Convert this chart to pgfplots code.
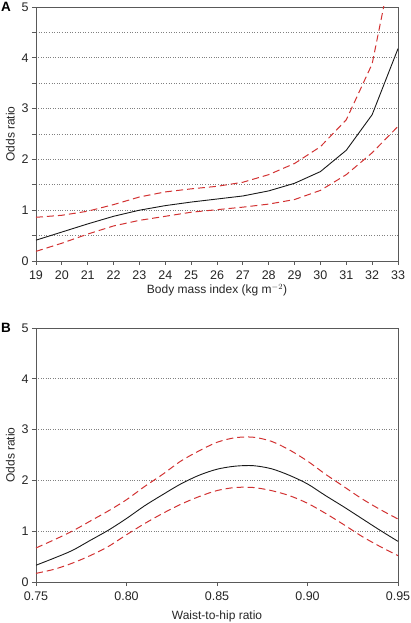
\documentclass[border=0pt]{standalone}
\usepackage{pgfplots}
\pgfplotsset{compat=1.18}
\usepackage{fontspec}
\setmainfont{Liberation Sans}
\definecolor{dred}{RGB}{210,50,50}
\pgfplotsset{
  myax/.style={
    scale only axis, width=362pt, height=254pt,
    axis line style={black!65, line width=0.9pt},
    tick style={black!65, line width=0.9pt},
    tick align=outside, major tick length=4pt, minor tick length=4pt,
    xtick pos=bottom, ytick pos=left,
    ymin=0, ymax=5, ytick={0,1,2,3,4,5},
    ymajorgrids, grid style={gray, dotted, line width=0.6pt},
    every tick label/.append style={font=\fontsize{12.5}{14}\selectfont, text=black!85},
    xticklabel style={yshift=-2pt},
    /pgf/number format/assume math mode=true,
    label style={font=\fontsize{12}{14}\selectfont, text=black!85},
    ylabel={Odds ratio},
    clip=true,
  },
  ci/.style={dred, line width=1pt, dash pattern=on 7pt off 4pt},
  est/.style={black!90, line width=0.9pt},
}
\begin{document}
\begin{tikzpicture}[x=1pt,y=1pt]
\useasboundingbox (0,0) rectangle (410,623);
\begin{axis}[myax, at={(36pt,362pt)}, anchor=south west,
  xmin=19, xmax=33, xtick={19,...,33},
  minor ytick={0.5,1.5,2.5,3.5,4.5}, yminorgrids,
  minor grid style={gray, dotted, line width=0.6pt},
  xlabel style={yshift=2pt},
  xlabel={Body mass index (kg m$^{-2}$)}]
\addplot[est] coordinates {
(19,0.41)(20,0.57)(21,0.73)(22,0.88)(23,1.0)(24,1.09)(25,1.16)(26,1.22)(27,1.28)(28,1.38)(29,1.53)(30,1.76)(31,2.18)(32,2.88)(33,4.18)};
\addplot[ci] coordinates {
(19,0.86)(20,0.9)(21,0.98)(22,1.11)(23,1.26)(24,1.36)(25,1.42)(26,1.47)(27,1.55)(28,1.70)(29,1.92)(30,2.25)(31,2.78)(32,3.88)(33,6.4)};
\addplot[ci] coordinates {
(19,0.19)(20,0.35)(21,0.53)(22,0.69)(23,0.80)(24,0.88)(25,0.96)(26,1.01)(27,1.06)(28,1.12)(29,1.21)(30,1.39)(31,1.70)(32,2.13)(33,2.65)};
\end{axis}
\node[anchor=north west, inner sep=0pt, font=\bfseries\fontsize{13.5}{14}\selectfont] at (1,621) {A};
\begin{axis}[myax, at={(36pt,41pt)}, anchor=south west,
  xmin=0.75, xmax=0.95, xtick={0.75,0.80,0.85,0.90,0.95},
  xticklabel style={/pgf/number format/.cd, fixed, fixed zerofill, precision=2},
  xlabel style={yshift=-4pt},
  xlabel={Waist-to-hip ratio}]
\addplot[est, smooth] coordinates {
(0.75,0.33)(0.76,0.47)(0.77,0.62)(0.78,0.82)(0.79,1.02)(0.80,1.25)(0.81,1.5)(0.82,1.72)(0.83,1.93)(0.84,2.1)(0.85,2.22)(0.86,2.28)(0.87,2.29)(0.88,2.23)(0.89,2.1)(0.90,1.93)(0.91,1.7)(0.92,1.48)(0.93,1.25)(0.94,1.02)(0.95,0.8)};
\addplot[ci, smooth] coordinates {
(0.75,0.67)(0.76,0.83)(0.77,1.0)(0.78,1.2)(0.79,1.4)(0.80,1.62)(0.81,1.88)(0.82,2.12)(0.83,2.38)(0.84,2.58)(0.85,2.75)(0.86,2.84)(0.87,2.85)(0.88,2.77)(0.89,2.6)(0.90,2.38)(0.91,2.12)(0.92,1.88)(0.93,1.64)(0.94,1.43)(0.95,1.24)};
\addplot[ci, smooth] coordinates {
(0.75,0.17)(0.76,0.25)(0.77,0.37)(0.78,0.52)(0.79,0.7)(0.80,0.93)(0.81,1.15)(0.82,1.35)(0.83,1.53)(0.84,1.68)(0.85,1.8)(0.86,1.86)(0.87,1.86)(0.88,1.8)(0.89,1.7)(0.90,1.55)(0.91,1.35)(0.92,1.13)(0.93,0.9)(0.94,0.7)(0.95,0.52)};
\end{axis}
\node[anchor=north west, inner sep=0pt, font=\bfseries\fontsize{13.5}{14}\selectfont] at (1,300) {B};
\end{tikzpicture}
\end{document}
